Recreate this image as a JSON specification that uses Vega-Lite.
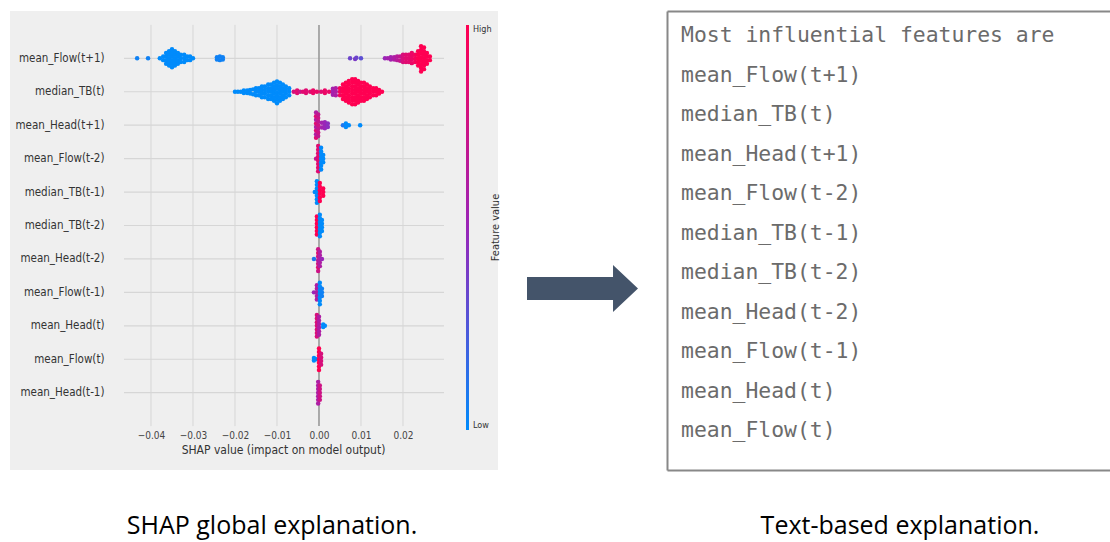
{
"$schema": "https://vega.github.io/schema/vega-lite/v6.json",
"background": "white",
"padding": {"left": 10, "top": 11, "right": 0, "bottom": 0},
"autosize": {"type": "pad"},
"spacing": 41,
"bounds": "full",
"config": {"view": {"stroke": null}},
"datasets": {
"ticks": [{"t": -0.04}, {"t": -0.03}, {"t": -0.02}, {"t": -0.01}, {"t": 0.01}, {"t": 0.02}],
"rows": [{"f": "mean_Flow(t+1)"}, {"f": "median_TB(t)"}, {"f": "mean_Head(t+1)"}, {"f": "mean_Flow(t-2)"}, {"f": "median_TB(t-1)"}, {"f": "median_TB(t-2)"}, {"f": "mean_Head(t-2)"}, {"f": "mean_Flow(t-1)"}, {"f": "mean_Head(t)"}, {"f": "mean_Flow(t)"}, {"f": "mean_Head(t-1)"}],
"lines": [{"line": "Most influential features are"}, {"line": "mean_Flow(t+1)"}, {"line": "median_TB(t)"}, {"line": "mean_Head(t+1)"}, {"line": "mean_Flow(t-2)"}, {"line": "median_TB(t-1)"}, {"line": "median_TB(t-2)"}, {"line": "mean_Head(t-2)"}, {"line": "mean_Flow(t-1)"}, {"line": "mean_Head(t)"}, {"line": "mean_Flow(t)"}],
"points": [
{"f":"mean_Flow(t+1)","v":-0.0433,"j":0,"c":0.05},
{"f":"mean_Flow(t+1)","v":-0.0407,"j":0,"c":0.05},
{"f":"mean_Flow(t+1)","v":-0.0379,"j":0,"c":0},
{"f":"mean_Flow(t+1)","v":-0.0371,"j":-0.15,"c":0},
{"f":"mean_Flow(t+1)","v":-0.0371,"j":0.15,"c":0},
{"f":"mean_Flow(t+1)","v":-0.0364,"j":-0.45,"c":0},
{"f":"mean_Flow(t+1)","v":-0.0364,"j":-0.15,"c":0},
{"f":"mean_Flow(t+1)","v":-0.0364,"j":0.15,"c":0},
{"f":"mean_Flow(t+1)","v":-0.0364,"j":0.45,"c":0},
{"f":"mean_Flow(t+1)","v":-0.0357,"j":-0.6,"c":0},
{"f":"mean_Flow(t+1)","v":-0.0357,"j":-0.3,"c":0},
{"f":"mean_Flow(t+1)","v":-0.0357,"j":0,"c":0},
{"f":"mean_Flow(t+1)","v":-0.0357,"j":0.3,"c":0},
{"f":"mean_Flow(t+1)","v":-0.0357,"j":0.6,"c":0},
{"f":"mean_Flow(t+1)","v":-0.035,"j":-0.75,"c":0},
{"f":"mean_Flow(t+1)","v":-0.035,"j":-0.45,"c":0},
{"f":"mean_Flow(t+1)","v":-0.035,"j":-0.15,"c":0},
{"f":"mean_Flow(t+1)","v":-0.035,"j":0.15,"c":0},
{"f":"mean_Flow(t+1)","v":-0.035,"j":0.45,"c":0},
{"f":"mean_Flow(t+1)","v":-0.035,"j":0.75,"c":0},
{"f":"mean_Flow(t+1)","v":-0.0343,"j":-0.6,"c":0},
{"f":"mean_Flow(t+1)","v":-0.0343,"j":-0.3,"c":0},
{"f":"mean_Flow(t+1)","v":-0.0343,"j":0,"c":0},
{"f":"mean_Flow(t+1)","v":-0.0343,"j":0.3,"c":0},
{"f":"mean_Flow(t+1)","v":-0.0343,"j":0.6,"c":0},
{"f":"mean_Flow(t+1)","v":-0.0336,"j":-0.45,"c":0},
{"f":"mean_Flow(t+1)","v":-0.0336,"j":-0.15,"c":0},
{"f":"mean_Flow(t+1)","v":-0.0336,"j":0.15,"c":0},
{"f":"mean_Flow(t+1)","v":-0.0336,"j":0.45,"c":0},
{"f":"mean_Flow(t+1)","v":-0.0329,"j":-0.3,"c":0},
{"f":"mean_Flow(t+1)","v":-0.0329,"j":0,"c":0},
{"f":"mean_Flow(t+1)","v":-0.0329,"j":0.3,"c":0},
{"f":"mean_Flow(t+1)","v":-0.0321,"j":-0.3,"c":0},
{"f":"mean_Flow(t+1)","v":-0.0321,"j":0,"c":0},
{"f":"mean_Flow(t+1)","v":-0.0321,"j":0.3,"c":0},
{"f":"mean_Flow(t+1)","v":-0.0314,"j":-0.15,"c":0},
{"f":"mean_Flow(t+1)","v":-0.0314,"j":0.15,"c":0},
{"f":"mean_Flow(t+1)","v":-0.0307,"j":-0.15,"c":0},
{"f":"mean_Flow(t+1)","v":-0.0307,"j":0.15,"c":0},
{"f":"mean_Flow(t+1)","v":-0.03,"j":0,"c":0},
{"f":"mean_Flow(t+1)","v":-0.0243,"j":-0.1,"c":0.05},
{"f":"mean_Flow(t+1)","v":-0.0243,"j":0.1,"c":0.05},
{"f":"mean_Flow(t+1)","v":-0.0236,"j":-0.15,"c":0.05},
{"f":"mean_Flow(t+1)","v":-0.0236,"j":0.15,"c":0.05},
{"f":"mean_Flow(t+1)","v":-0.0229,"j":-0.1,"c":0.05},
{"f":"mean_Flow(t+1)","v":-0.0229,"j":0.1,"c":0.05},
{"f":"mean_Flow(t+1)","v":0.0074,"j":0,"c":0.35},
{"f":"mean_Flow(t+1)","v":0.0086,"j":-0.05,"c":0.4},
{"f":"mean_Flow(t+1)","v":0.0089,"j":0.05,"c":0.35},
{"f":"mean_Flow(t+1)","v":0.01,"j":0,"c":0.3},
{"f":"mean_Flow(t+1)","v":0.0157,"j":0,"c":0.5},
{"f":"mean_Flow(t+1)","v":0.0164,"j":0,"c":0.55},
{"f":"mean_Flow(t+1)","v":0.0171,"j":-0.1,"c":0.55},
{"f":"mean_Flow(t+1)","v":0.0171,"j":0.1,"c":0.55},
{"f":"mean_Flow(t+1)","v":0.0179,"j":-0.1,"c":0.6},
{"f":"mean_Flow(t+1)","v":0.0179,"j":0.1,"c":0.6},
{"f":"mean_Flow(t+1)","v":0.0186,"j":-0.15,"c":0.65},
{"f":"mean_Flow(t+1)","v":0.0186,"j":0.15,"c":0.65},
{"f":"mean_Flow(t+1)","v":0.0193,"j":-0.2,"c":0.7},
{"f":"mean_Flow(t+1)","v":0.0193,"j":0.15,"c":0.7},
{"f":"mean_Flow(t+1)","v":0.02,"j":-0.3,"c":0.8},
{"f":"mean_Flow(t+1)","v":0.02,"j":0,"c":0.8},
{"f":"mean_Flow(t+1)","v":0.02,"j":0.3,"c":0.8},
{"f":"mean_Flow(t+1)","v":0.0207,"j":-0.3,"c":0.85},
{"f":"mean_Flow(t+1)","v":0.0207,"j":0,"c":0.85},
{"f":"mean_Flow(t+1)","v":0.0207,"j":0.3,"c":0.85},
{"f":"mean_Flow(t+1)","v":0.0214,"j":-0.3,"c":0.85},
{"f":"mean_Flow(t+1)","v":0.0214,"j":0,"c":0.85},
{"f":"mean_Flow(t+1)","v":0.0214,"j":0.3,"c":0.85},
{"f":"mean_Flow(t+1)","v":0.0221,"j":-0.4,"c":0.9},
{"f":"mean_Flow(t+1)","v":0.0221,"j":-0.1,"c":0.9},
{"f":"mean_Flow(t+1)","v":0.0221,"j":0.2,"c":0.9},
{"f":"mean_Flow(t+1)","v":0.0221,"j":0.45,"c":0.9},
{"f":"mean_Flow(t+1)","v":0.0229,"j":-0.3,"c":0.95},
{"f":"mean_Flow(t+1)","v":0.0229,"j":0,"c":0.95},
{"f":"mean_Flow(t+1)","v":0.0229,"j":0.3,"c":0.95},
{"f":"mean_Flow(t+1)","v":0.0236,"j":-0.6,"c":1},
{"f":"mean_Flow(t+1)","v":0.0236,"j":-0.3,"c":1},
{"f":"mean_Flow(t+1)","v":0.0236,"j":0,"c":1},
{"f":"mean_Flow(t+1)","v":0.0236,"j":0.3,"c":1},
{"f":"mean_Flow(t+1)","v":0.0236,"j":0.6,"c":1},
{"f":"mean_Flow(t+1)","v":0.0243,"j":-1.1,"c":1},
{"f":"mean_Flow(t+1)","v":0.0243,"j":-0.8,"c":1},
{"f":"mean_Flow(t+1)","v":0.0243,"j":-0.5,"c":1},
{"f":"mean_Flow(t+1)","v":0.0243,"j":-0.2,"c":1},
{"f":"mean_Flow(t+1)","v":0.0243,"j":0.1,"c":1},
{"f":"mean_Flow(t+1)","v":0.0243,"j":0.4,"c":1},
{"f":"mean_Flow(t+1)","v":0.0243,"j":0.7,"c":1},
{"f":"mean_Flow(t+1)","v":0.0243,"j":1.0,"c":1},
{"f":"mean_Flow(t+1)","v":0.025,"j":-0.9,"c":1},
{"f":"mean_Flow(t+1)","v":0.025,"j":-0.6,"c":1},
{"f":"mean_Flow(t+1)","v":0.025,"j":-0.3,"c":1},
{"f":"mean_Flow(t+1)","v":0.025,"j":0,"c":1},
{"f":"mean_Flow(t+1)","v":0.025,"j":0.3,"c":1},
{"f":"mean_Flow(t+1)","v":0.025,"j":0.6,"c":1},
{"f":"mean_Flow(t+1)","v":0.025,"j":0.9,"c":1},
{"f":"mean_Flow(t+1)","v":0.0257,"j":-0.45,"c":1},
{"f":"mean_Flow(t+1)","v":0.0257,"j":-0.15,"c":1},
{"f":"mean_Flow(t+1)","v":0.0257,"j":0.15,"c":1},
{"f":"mean_Flow(t+1)","v":0.0257,"j":0.45,"c":1},
{"f":"mean_Flow(t+1)","v":0.0264,"j":-0.15,"c":1},
{"f":"mean_Flow(t+1)","v":0.0264,"j":0.15,"c":1},
{"f":"median_TB(t)","v":-0.02,"j":0,"c":0},
{"f":"median_TB(t)","v":-0.0193,"j":0,"c":0},
{"f":"median_TB(t)","v":-0.0186,"j":0,"c":0},
{"f":"median_TB(t)","v":-0.0179,"j":-0.1,"c":0},
{"f":"median_TB(t)","v":-0.0179,"j":0.1,"c":0},
{"f":"median_TB(t)","v":-0.0171,"j":-0.1,"c":0},
{"f":"median_TB(t)","v":-0.0171,"j":0.1,"c":0},
{"f":"median_TB(t)","v":-0.0164,"j":-0.15,"c":0},
{"f":"median_TB(t)","v":-0.0164,"j":0.15,"c":0},
{"f":"median_TB(t)","v":-0.0157,"j":-0.2,"c":0},
{"f":"median_TB(t)","v":-0.0157,"j":0.2,"c":0},
{"f":"median_TB(t)","v":-0.015,"j":-0.3,"c":0},
{"f":"median_TB(t)","v":-0.015,"j":0,"c":0},
{"f":"median_TB(t)","v":-0.015,"j":0.3,"c":0},
{"f":"median_TB(t)","v":-0.0143,"j":-0.3,"c":0},
{"f":"median_TB(t)","v":-0.0143,"j":0,"c":0},
{"f":"median_TB(t)","v":-0.0143,"j":0.3,"c":0},
{"f":"median_TB(t)","v":-0.0136,"j":-0.45,"c":0},
{"f":"median_TB(t)","v":-0.0136,"j":-0.15,"c":0},
{"f":"median_TB(t)","v":-0.0136,"j":0.15,"c":0},
{"f":"median_TB(t)","v":-0.0136,"j":0.45,"c":0},
{"f":"median_TB(t)","v":-0.0129,"j":-0.45,"c":0},
{"f":"median_TB(t)","v":-0.0129,"j":-0.15,"c":0},
{"f":"median_TB(t)","v":-0.0129,"j":0.15,"c":0},
{"f":"median_TB(t)","v":-0.0129,"j":0.45,"c":0},
{"f":"median_TB(t)","v":-0.0121,"j":-0.6,"c":0},
{"f":"median_TB(t)","v":-0.0121,"j":-0.3,"c":0},
{"f":"median_TB(t)","v":-0.0121,"j":0,"c":0},
{"f":"median_TB(t)","v":-0.0121,"j":0.3,"c":0},
{"f":"median_TB(t)","v":-0.0121,"j":0.6,"c":0},
{"f":"median_TB(t)","v":-0.0114,"j":-0.6,"c":0},
{"f":"median_TB(t)","v":-0.0114,"j":-0.3,"c":0},
{"f":"median_TB(t)","v":-0.0114,"j":0,"c":0},
{"f":"median_TB(t)","v":-0.0114,"j":0.3,"c":0},
{"f":"median_TB(t)","v":-0.0114,"j":0.6,"c":0},
{"f":"median_TB(t)","v":-0.0107,"j":-0.75,"c":0},
{"f":"median_TB(t)","v":-0.0107,"j":-0.45,"c":0},
{"f":"median_TB(t)","v":-0.0107,"j":-0.15,"c":0},
{"f":"median_TB(t)","v":-0.0107,"j":0.15,"c":0},
{"f":"median_TB(t)","v":-0.0107,"j":0.45,"c":0},
{"f":"median_TB(t)","v":-0.0107,"j":0.75,"c":0},
{"f":"median_TB(t)","v":-0.01,"j":-0.95,"c":0},
{"f":"median_TB(t)","v":-0.01,"j":-0.65,"c":0},
{"f":"median_TB(t)","v":-0.01,"j":-0.35,"c":0},
{"f":"median_TB(t)","v":-0.01,"j":-0.05,"c":0},
{"f":"median_TB(t)","v":-0.01,"j":0.25,"c":0},
{"f":"median_TB(t)","v":-0.01,"j":0.55,"c":0},
{"f":"median_TB(t)","v":-0.01,"j":0.85,"c":0},
{"f":"median_TB(t)","v":-0.0093,"j":-0.75,"c":0},
{"f":"median_TB(t)","v":-0.0093,"j":-0.45,"c":0},
{"f":"median_TB(t)","v":-0.0093,"j":-0.15,"c":0},
{"f":"median_TB(t)","v":-0.0093,"j":0.15,"c":0},
{"f":"median_TB(t)","v":-0.0093,"j":0.45,"c":0},
{"f":"median_TB(t)","v":-0.0093,"j":0.75,"c":0},
{"f":"median_TB(t)","v":-0.0086,"j":-0.6,"c":0},
{"f":"median_TB(t)","v":-0.0086,"j":-0.3,"c":0},
{"f":"median_TB(t)","v":-0.0086,"j":0,"c":0},
{"f":"median_TB(t)","v":-0.0086,"j":0.3,"c":0},
{"f":"median_TB(t)","v":-0.0086,"j":0.6,"c":0},
{"f":"median_TB(t)","v":-0.0079,"j":-0.45,"c":0},
{"f":"median_TB(t)","v":-0.0079,"j":-0.15,"c":0},
{"f":"median_TB(t)","v":-0.0079,"j":0.15,"c":0},
{"f":"median_TB(t)","v":-0.0079,"j":0.45,"c":0},
{"f":"median_TB(t)","v":-0.0071,"j":-0.3,"c":0},
{"f":"median_TB(t)","v":-0.0071,"j":0,"c":0},
{"f":"median_TB(t)","v":-0.0071,"j":0.3,"c":0},
{"f":"median_TB(t)","v":-0.006,"j":0,"c":0.8},
{"f":"median_TB(t)","v":-0.0052,"j":-0.1,"c":0.85},
{"f":"median_TB(t)","v":-0.0052,"j":0.1,"c":0.85},
{"f":"median_TB(t)","v":-0.0045,"j":0,"c":0.75},
{"f":"median_TB(t)","v":-0.0038,"j":0,"c":0.85},
{"f":"median_TB(t)","v":-0.0031,"j":-0.1,"c":0.85},
{"f":"median_TB(t)","v":-0.0031,"j":0.1,"c":0.85},
{"f":"median_TB(t)","v":-0.0021,"j":0,"c":0.85},
{"f":"median_TB(t)","v":-0.0014,"j":-0.1,"c":0.9},
{"f":"median_TB(t)","v":-0.0014,"j":0.1,"c":0.9},
{"f":"median_TB(t)","v":-0.0005,"j":0,"c":0.9},
{"f":"median_TB(t)","v":0.0005,"j":0,"c":0.85},
{"f":"median_TB(t)","v":0.0014,"j":-0.1,"c":0.9},
{"f":"median_TB(t)","v":0.0014,"j":0.1,"c":0.9},
{"f":"median_TB(t)","v":0.0024,"j":0,"c":0.9},
{"f":"median_TB(t)","v":0.0033,"j":-0.25,"c":0.55},
{"f":"median_TB(t)","v":0.0033,"j":0,"c":0.55},
{"f":"median_TB(t)","v":0.0033,"j":0.25,"c":0.55},
{"f":"median_TB(t)","v":0.004,"j":-0.3,"c":0.6},
{"f":"median_TB(t)","v":0.004,"j":0,"c":0.6},
{"f":"median_TB(t)","v":0.004,"j":0.3,"c":0.6},
{"f":"median_TB(t)","v":0.005,"j":-0.3,"c":0.95},
{"f":"median_TB(t)","v":0.005,"j":0,"c":0.95},
{"f":"median_TB(t)","v":0.005,"j":0.3,"c":0.95},
{"f":"median_TB(t)","v":0.0057,"j":-0.6,"c":1},
{"f":"median_TB(t)","v":0.0057,"j":-0.3,"c":1},
{"f":"median_TB(t)","v":0.0057,"j":0,"c":1},
{"f":"median_TB(t)","v":0.0057,"j":0.3,"c":1},
{"f":"median_TB(t)","v":0.0057,"j":0.6,"c":1},
{"f":"median_TB(t)","v":0.0064,"j":-0.75,"c":1},
{"f":"median_TB(t)","v":0.0064,"j":-0.45,"c":1},
{"f":"median_TB(t)","v":0.0064,"j":-0.15,"c":1},
{"f":"median_TB(t)","v":0.0064,"j":0.15,"c":1},
{"f":"median_TB(t)","v":0.0064,"j":0.45,"c":1},
{"f":"median_TB(t)","v":0.0064,"j":0.75,"c":1},
{"f":"median_TB(t)","v":0.0071,"j":-0.9,"c":1},
{"f":"median_TB(t)","v":0.0071,"j":-0.6,"c":1},
{"f":"median_TB(t)","v":0.0071,"j":-0.3,"c":1},
{"f":"median_TB(t)","v":0.0071,"j":0,"c":1},
{"f":"median_TB(t)","v":0.0071,"j":0.3,"c":1},
{"f":"median_TB(t)","v":0.0071,"j":0.6,"c":1},
{"f":"median_TB(t)","v":0.0071,"j":0.9,"c":1},
{"f":"median_TB(t)","v":0.0079,"j":-1.05,"c":1},
{"f":"median_TB(t)","v":0.0079,"j":-0.75,"c":1},
{"f":"median_TB(t)","v":0.0079,"j":-0.45,"c":1},
{"f":"median_TB(t)","v":0.0079,"j":-0.15,"c":1},
{"f":"median_TB(t)","v":0.0079,"j":0.15,"c":1},
{"f":"median_TB(t)","v":0.0079,"j":0.45,"c":1},
{"f":"median_TB(t)","v":0.0079,"j":0.75,"c":1},
{"f":"median_TB(t)","v":0.0079,"j":1.05,"c":1},
{"f":"median_TB(t)","v":0.0086,"j":-1.05,"c":1},
{"f":"median_TB(t)","v":0.0086,"j":-0.75,"c":1},
{"f":"median_TB(t)","v":0.0086,"j":-0.45,"c":1},
{"f":"median_TB(t)","v":0.0086,"j":-0.15,"c":1},
{"f":"median_TB(t)","v":0.0086,"j":0.15,"c":1},
{"f":"median_TB(t)","v":0.0086,"j":0.45,"c":1},
{"f":"median_TB(t)","v":0.0086,"j":0.75,"c":1},
{"f":"median_TB(t)","v":0.0086,"j":1.05,"c":1},
{"f":"median_TB(t)","v":0.0093,"j":-0.9,"c":1},
{"f":"median_TB(t)","v":0.0093,"j":-0.6,"c":1},
{"f":"median_TB(t)","v":0.0093,"j":-0.3,"c":1},
{"f":"median_TB(t)","v":0.0093,"j":0,"c":1},
{"f":"median_TB(t)","v":0.0093,"j":0.3,"c":1},
{"f":"median_TB(t)","v":0.0093,"j":0.6,"c":1},
{"f":"median_TB(t)","v":0.0093,"j":0.9,"c":1},
{"f":"median_TB(t)","v":0.01,"j":-0.75,"c":1},
{"f":"median_TB(t)","v":0.01,"j":-0.45,"c":1},
{"f":"median_TB(t)","v":0.01,"j":-0.15,"c":1},
{"f":"median_TB(t)","v":0.01,"j":0.15,"c":1},
{"f":"median_TB(t)","v":0.01,"j":0.45,"c":1},
{"f":"median_TB(t)","v":0.01,"j":0.75,"c":1},
{"f":"median_TB(t)","v":0.0107,"j":-0.75,"c":1},
{"f":"median_TB(t)","v":0.0107,"j":-0.45,"c":1},
{"f":"median_TB(t)","v":0.0107,"j":-0.15,"c":1},
{"f":"median_TB(t)","v":0.0107,"j":0.15,"c":1},
{"f":"median_TB(t)","v":0.0107,"j":0.45,"c":1},
{"f":"median_TB(t)","v":0.0107,"j":0.75,"c":1},
{"f":"median_TB(t)","v":0.0114,"j":-0.6,"c":1},
{"f":"median_TB(t)","v":0.0114,"j":-0.3,"c":1},
{"f":"median_TB(t)","v":0.0114,"j":0,"c":1},
{"f":"median_TB(t)","v":0.0114,"j":0.3,"c":1},
{"f":"median_TB(t)","v":0.0114,"j":0.6,"c":1},
{"f":"median_TB(t)","v":0.0121,"j":-0.45,"c":1},
{"f":"median_TB(t)","v":0.0121,"j":-0.15,"c":1},
{"f":"median_TB(t)","v":0.0121,"j":0.15,"c":1},
{"f":"median_TB(t)","v":0.0121,"j":0.45,"c":1},
{"f":"median_TB(t)","v":0.0129,"j":-0.3,"c":1},
{"f":"median_TB(t)","v":0.0129,"j":0,"c":1},
{"f":"median_TB(t)","v":0.0129,"j":0.3,"c":1},
{"f":"median_TB(t)","v":0.0136,"j":-0.3,"c":1},
{"f":"median_TB(t)","v":0.0136,"j":0,"c":1},
{"f":"median_TB(t)","v":0.0136,"j":0.3,"c":1},
{"f":"median_TB(t)","v":0.0143,"j":-0.15,"c":1},
{"f":"median_TB(t)","v":0.0143,"j":0.15,"c":1},
{"f":"median_TB(t)","v":0.015,"j":0,"c":1},
{"f":"mean_Head(t+1)","v":-0.0007,"j":-1.05,"c":0.85},
{"f":"mean_Head(t+1)","v":-0.0007,"j":-0.75,"c":0.6},
{"f":"mean_Head(t+1)","v":-0.0007,"j":-0.45,"c":0.85},
{"f":"mean_Head(t+1)","v":-0.0007,"j":-0.15,"c":0.6},
{"f":"mean_Head(t+1)","v":-0.0007,"j":0.15,"c":0.85},
{"f":"mean_Head(t+1)","v":-0.0007,"j":0.45,"c":0.6},
{"f":"mean_Head(t+1)","v":-0.0007,"j":0.75,"c":0.85},
{"f":"mean_Head(t+1)","v":-0.0007,"j":1.05,"c":0.6},
{"f":"mean_Head(t+1)","v":-0.0002,"j":-0.9,"c":0.7},
{"f":"mean_Head(t+1)","v":-0.0002,"j":-0.6,"c":0.75},
{"f":"mean_Head(t+1)","v":-0.0002,"j":-0.3,"c":0.7},
{"f":"mean_Head(t+1)","v":-0.0002,"j":0,"c":0.75},
{"f":"mean_Head(t+1)","v":-0.0002,"j":0.3,"c":0.7},
{"f":"mean_Head(t+1)","v":-0.0002,"j":0.6,"c":0.75},
{"f":"mean_Head(t+1)","v":-0.0002,"j":0.9,"c":0.7},
{"f":"mean_Head(t+1)","v":0.0007,"j":-0.2,"c":0.55},
{"f":"mean_Head(t+1)","v":0.0007,"j":0.2,"c":0.55},
{"f":"mean_Head(t+1)","v":0.0014,"j":-0.25,"c":0.5},
{"f":"mean_Head(t+1)","v":0.0014,"j":0,"c":0.5},
{"f":"mean_Head(t+1)","v":0.0014,"j":0.25,"c":0.5},
{"f":"mean_Head(t+1)","v":0.0021,"j":-0.15,"c":0.45},
{"f":"mean_Head(t+1)","v":0.0021,"j":0.15,"c":0.45},
{"f":"mean_Head(t+1)","v":0.0057,"j":0,"c":0.1},
{"f":"mean_Head(t+1)","v":0.0064,"j":-0.15,"c":0},
{"f":"mean_Head(t+1)","v":0.0064,"j":0.15,"c":0},
{"f":"mean_Head(t+1)","v":0.0071,"j":0,"c":0},
{"f":"mean_Head(t+1)","v":0.0098,"j":0,"c":0},
{"f":"mean_Flow(t-2)","v":-0.0007,"j":0,"c":0.7},
{"f":"mean_Flow(t-2)","v":-0.0002,"j":-1.05,"c":0.85},
{"f":"mean_Flow(t-2)","v":-0.0002,"j":-0.75,"c":0.85},
{"f":"mean_Flow(t-2)","v":-0.0002,"j":-0.45,"c":0.85},
{"f":"mean_Flow(t-2)","v":-0.0002,"j":-0.15,"c":0.85},
{"f":"mean_Flow(t-2)","v":-0.0002,"j":0.15,"c":0.85},
{"f":"mean_Flow(t-2)","v":-0.0002,"j":0.45,"c":0.85},
{"f":"mean_Flow(t-2)","v":-0.0002,"j":0.75,"c":0.85},
{"f":"mean_Flow(t-2)","v":-0.0002,"j":1.05,"c":0.85},
{"f":"mean_Flow(t-2)","v":0.0005,"j":-0.9,"c":0},
{"f":"mean_Flow(t-2)","v":0.0005,"j":-0.6,"c":0},
{"f":"mean_Flow(t-2)","v":0.0005,"j":-0.3,"c":0},
{"f":"mean_Flow(t-2)","v":0.0005,"j":0,"c":0},
{"f":"mean_Flow(t-2)","v":0.0005,"j":0.3,"c":0},
{"f":"mean_Flow(t-2)","v":0.0005,"j":0.6,"c":0},
{"f":"mean_Flow(t-2)","v":0.0005,"j":0.9,"c":0},
{"f":"mean_Flow(t-2)","v":0.001,"j":-0.3,"c":0},
{"f":"mean_Flow(t-2)","v":0.001,"j":0,"c":0},
{"f":"mean_Flow(t-2)","v":0.001,"j":0.3,"c":0},
{"f":"median_TB(t-1)","v":-0.001,"j":0,"c":0},
{"f":"median_TB(t-1)","v":-0.0005,"j":-0.9,"c":0},
{"f":"median_TB(t-1)","v":-0.0005,"j":-0.6,"c":0},
{"f":"median_TB(t-1)","v":-0.0005,"j":-0.3,"c":0},
{"f":"median_TB(t-1)","v":-0.0005,"j":0,"c":0},
{"f":"median_TB(t-1)","v":-0.0005,"j":0.3,"c":0},
{"f":"median_TB(t-1)","v":-0.0005,"j":0.6,"c":0},
{"f":"median_TB(t-1)","v":-0.0005,"j":0.9,"c":0},
{"f":"median_TB(t-1)","v":0.0002,"j":-0.75,"c":1},
{"f":"median_TB(t-1)","v":0.0002,"j":-0.45,"c":1},
{"f":"median_TB(t-1)","v":0.0002,"j":-0.15,"c":1},
{"f":"median_TB(t-1)","v":0.0002,"j":0.15,"c":1},
{"f":"median_TB(t-1)","v":0.0002,"j":0.45,"c":1},
{"f":"median_TB(t-1)","v":0.0002,"j":0.75,"c":1},
{"f":"median_TB(t-1)","v":0.001,"j":-0.3,"c":1},
{"f":"median_TB(t-1)","v":0.001,"j":0,"c":1},
{"f":"median_TB(t-1)","v":0.001,"j":0.3,"c":1},
{"f":"median_TB(t-2)","v":-0.0005,"j":-0.75,"c":1},
{"f":"median_TB(t-2)","v":-0.0005,"j":-0.45,"c":1},
{"f":"median_TB(t-2)","v":-0.0005,"j":-0.15,"c":1},
{"f":"median_TB(t-2)","v":-0.0005,"j":0.15,"c":1},
{"f":"median_TB(t-2)","v":-0.0005,"j":0.45,"c":1},
{"f":"median_TB(t-2)","v":-0.0005,"j":0.75,"c":1},
{"f":"median_TB(t-2)","v":0.0002,"j":-0.9,"c":0},
{"f":"median_TB(t-2)","v":0.0002,"j":-0.6,"c":0},
{"f":"median_TB(t-2)","v":0.0002,"j":-0.3,"c":0},
{"f":"median_TB(t-2)","v":0.0002,"j":0,"c":0},
{"f":"median_TB(t-2)","v":0.0002,"j":0.3,"c":0},
{"f":"median_TB(t-2)","v":0.0002,"j":0.6,"c":0},
{"f":"median_TB(t-2)","v":0.0002,"j":0.9,"c":0},
{"f":"median_TB(t-2)","v":0.0007,"j":-0.45,"c":0},
{"f":"median_TB(t-2)","v":0.0007,"j":-0.15,"c":0},
{"f":"median_TB(t-2)","v":0.0007,"j":0.15,"c":0},
{"f":"median_TB(t-2)","v":0.0007,"j":0.45,"c":0},
{"f":"mean_Head(t-2)","v":-0.0012,"j":0,"c":0.1},
{"f":"mean_Head(t-2)","v":-0.0002,"j":-1.0,"c":0.75},
{"f":"mean_Head(t-2)","v":-0.0002,"j":-0.7,"c":0.85},
{"f":"mean_Head(t-2)","v":-0.0002,"j":-0.4,"c":0.75},
{"f":"mean_Head(t-2)","v":-0.0002,"j":-0.1,"c":0.65},
{"f":"mean_Head(t-2)","v":-0.0002,"j":0.2,"c":0.75},
{"f":"mean_Head(t-2)","v":-0.0002,"j":0.5,"c":0.85},
{"f":"mean_Head(t-2)","v":-0.0002,"j":0.8,"c":0.75},
{"f":"mean_Head(t-2)","v":0.0002,"j":-0.6,"c":0.6},
{"f":"mean_Head(t-2)","v":0.0002,"j":-0.3,"c":0.6},
{"f":"mean_Head(t-2)","v":0.0002,"j":0,"c":0.6},
{"f":"mean_Head(t-2)","v":0.0002,"j":0.3,"c":0.6},
{"f":"mean_Head(t-2)","v":0.0002,"j":0.6,"c":0.6},
{"f":"mean_Head(t-2)","v":0.0007,"j":0,"c":0.5},
{"f":"mean_Flow(t-1)","v":-0.0012,"j":0,"c":0.5},
{"f":"mean_Flow(t-1)","v":-0.0005,"j":-0.6,"c":0.6},
{"f":"mean_Flow(t-1)","v":-0.0005,"j":-0.3,"c":0.6},
{"f":"mean_Flow(t-1)","v":-0.0005,"j":0,"c":0.6},
{"f":"mean_Flow(t-1)","v":-0.0005,"j":0.3,"c":0.6},
{"f":"mean_Flow(t-1)","v":-0.0005,"j":0.6,"c":0.6},
{"f":"mean_Flow(t-1)","v":0.0002,"j":-1.0,"c":0},
{"f":"mean_Flow(t-1)","v":0.0002,"j":-0.7,"c":0},
{"f":"mean_Flow(t-1)","v":0.0002,"j":-0.4,"c":0},
{"f":"mean_Flow(t-1)","v":0.0002,"j":-0.1,"c":0},
{"f":"mean_Flow(t-1)","v":0.0002,"j":0.2,"c":0},
{"f":"mean_Flow(t-1)","v":0.0002,"j":0.5,"c":0},
{"f":"mean_Flow(t-1)","v":0.0002,"j":0.8,"c":0},
{"f":"mean_Flow(t-1)","v":0.0007,"j":-0.3,"c":0.05},
{"f":"mean_Flow(t-1)","v":0.0007,"j":0,"c":0.05},
{"f":"mean_Flow(t-1)","v":0.0007,"j":0.3,"c":0.05},
{"f":"mean_Head(t)","v":-0.0005,"j":-0.9,"c":0.8},
{"f":"mean_Head(t)","v":-0.0005,"j":-0.6,"c":0.8},
{"f":"mean_Head(t)","v":-0.0005,"j":-0.3,"c":0.8},
{"f":"mean_Head(t)","v":-0.0005,"j":0,"c":0.8},
{"f":"mean_Head(t)","v":-0.0005,"j":0.3,"c":0.8},
{"f":"mean_Head(t)","v":-0.0005,"j":0.6,"c":0.8},
{"f":"mean_Head(t)","v":-0.0005,"j":0.9,"c":0.8},
{"f":"mean_Head(t)","v":0,"j":-0.75,"c":0.6},
{"f":"mean_Head(t)","v":0,"j":-0.45,"c":0.6},
{"f":"mean_Head(t)","v":0,"j":-0.15,"c":0.6},
{"f":"mean_Head(t)","v":0,"j":0.15,"c":0.6},
{"f":"mean_Head(t)","v":0,"j":0.45,"c":0.6},
{"f":"mean_Head(t)","v":0,"j":0.75,"c":0.6},
{"f":"mean_Head(t)","v":0.001,"j":-0.1,"c":0},
{"f":"mean_Head(t)","v":0.001,"j":0.1,"c":0},
{"f":"mean_Head(t)","v":0.0014,"j":0,"c":0},
{"f":"mean_Flow(t)","v":-0.0012,"j":-0.1,"c":0},
{"f":"mean_Flow(t)","v":-0.0012,"j":0.1,"c":0},
{"f":"mean_Flow(t)","v":-0.0005,"j":0,"c":0},
{"f":"mean_Flow(t)","v":0,"j":-0.9,"c":1},
{"f":"mean_Flow(t)","v":0,"j":-0.6,"c":1},
{"f":"mean_Flow(t)","v":0,"j":-0.3,"c":1},
{"f":"mean_Flow(t)","v":0,"j":0,"c":1},
{"f":"mean_Flow(t)","v":0,"j":0.3,"c":1},
{"f":"mean_Flow(t)","v":0,"j":0.6,"c":1},
{"f":"mean_Flow(t)","v":0,"j":0.9,"c":1},
{"f":"mean_Flow(t)","v":0.0005,"j":-0.45,"c":0.8},
{"f":"mean_Flow(t)","v":0.0005,"j":-0.15,"c":0.8},
{"f":"mean_Flow(t)","v":0.0005,"j":0.15,"c":0.8},
{"f":"mean_Flow(t)","v":0.0005,"j":0.45,"c":0.8},
{"f":"mean_Head(t-1)","v":-0.0002,"j":-0.9,"c":0.6},
{"f":"mean_Head(t-1)","v":-0.0002,"j":-0.6,"c":0.6},
{"f":"mean_Head(t-1)","v":-0.0002,"j":-0.3,"c":0.6},
{"f":"mean_Head(t-1)","v":-0.0002,"j":0,"c":0.6},
{"f":"mean_Head(t-1)","v":-0.0002,"j":0.3,"c":0.6},
{"f":"mean_Head(t-1)","v":-0.0002,"j":0.6,"c":0.6},
{"f":"mean_Head(t-1)","v":-0.0002,"j":0.9,"c":0.6},
{"f":"mean_Head(t-1)","v":0.0002,"j":-0.6,"c":0.75},
{"f":"mean_Head(t-1)","v":0.0002,"j":-0.3,"c":0.75},
{"f":"mean_Head(t-1)","v":0.0002,"j":0,"c":0.75},
{"f":"mean_Head(t-1)","v":0.0002,"j":0.3,"c":0.75},
{"f":"mean_Head(t-1)","v":0.0002,"j":0.6,"c":0.75}
]
},
"vconcat": [
{
"spacing": 0,
"bounds": "flush",
"hconcat": [
{
"width": 488,
"height": 459,
"view": {"fill": "#efefef", "stroke": null},
"resolve": {"scale": {"y": "independent"}, "axis": {"y": "independent"}},
"layer": [
{
"data": {"name": "ticks"},
"mark": {"type": "rule", "color": "#d6d6d6", "strokeWidth": 1},
"encoding": {
"x": {"field": "t", "type": "quantitative", "scale": {"domain": [-0.07357, 0.04262], "nice": false, "zero": false}, "axis": {"values": [-0.04, -0.03, -0.02, -0.01, 0, 0.01, 0.02], "format": ".2f", "orient": "bottom", "offset": -47, "domain": false, "ticks": false, "grid": false, "labelPadding": 7, "labelFont": "DejaVu Sans Condensed", "labelFontSize": 10, "labelColor": "#444444", "title": "SHAP value (impact on model output)", "titleFont": "DejaVu Sans Condensed", "titleFontSize": 12, "titleFontWeight": "normal", "titleColor": "#333333", "titlePadding": 4, "titleX": 273}},
"y": {"datum": "_top", "type": "nominal", "scale": {"type": "point", "domain": ["_top", "mean_Flow(t+1)", "median_TB(t)", "mean_Head(t+1)", "mean_Flow(t-2)", "median_TB(t-1)", "median_TB(t-2)", "mean_Head(t-2)", "mean_Flow(t-1)", "mean_Head(t)", "mean_Flow(t)", "mean_Head(t-1)", "_bottom"], "padding": 0.8645, "align": 0.2405}, "axis": null},
"y2": {"datum": "_bottom"}
}
},
{
"data": {"name": "rows"},
"mark": {"type": "rule", "color": "#d6d6d6", "strokeWidth": 1.2},
"encoding": {
"x": {"datum": -0.04643, "type": "quantitative"},
"x2": {"datum": 0.02976},
"y": {"field": "f", "type": "nominal", "scale": {"type": "point", "domain": ["_top", "mean_Flow(t+1)", "median_TB(t)", "mean_Head(t+1)", "mean_Flow(t-2)", "median_TB(t-1)", "median_TB(t-2)", "mean_Head(t-2)", "mean_Flow(t-1)", "mean_Head(t)", "mean_Flow(t)", "mean_Head(t-1)", "_bottom"], "padding": 0.8645, "align": 0.2405}, "axis": null}
}
},
{
"data": {"values": [{"z": 0}]},
"mark": {"type": "rule", "color": "#999999", "strokeWidth": 1.6},
"encoding": {
"x": {"field": "z", "type": "quantitative"},
"y": {"datum": "_top", "type": "nominal", "scale": {"type": "point", "domain": ["_top", "mean_Flow(t+1)", "median_TB(t)", "mean_Head(t+1)", "mean_Flow(t-2)", "median_TB(t-1)", "median_TB(t-2)", "mean_Head(t-2)", "mean_Flow(t-1)", "mean_Head(t)", "mean_Flow(t)", "mean_Head(t-1)", "_bottom"], "padding": 0.8645, "align": 0.2405}, "axis": {"orient": "right", "offset": 0, "domain": false, "ticks": false, "labels": false, "grid": false, "title": "Feature value", "titleAngle": 270, "titleX": -3, "titleY": 216, "titleAlign": "center", "titleBaseline": "middle", "titleFont": "DejaVu Sans Condensed", "titleFontSize": 11, "titleFontWeight": "normal", "titleColor": "#333333"}},
"y2": {"datum": "_bottom"}
}
},
{
"data": {"name": "points"},
"mark": {"type": "point", "filled": true, "size": 20, "opacity": 1, "strokeWidth": 0},
"encoding": {
"x": {"field": "v", "type": "quantitative"},
"y": {"field": "f", "type": "nominal", "scale": {"type": "point", "domain": ["_top", "mean_Flow(t+1)", "median_TB(t)", "mean_Head(t+1)", "mean_Flow(t-2)", "median_TB(t-1)", "median_TB(t-2)", "mean_Head(t-2)", "mean_Flow(t-1)", "mean_Head(t)", "mean_Flow(t)", "mean_Head(t-1)", "_bottom"], "padding": 0.8645, "align": 0.2405}, "axis": {"orient": "left", "offset": -114, "domain": false, "ticks": false, "grid": false, "labelPadding": 20, "labelFont": "DejaVu Sans Condensed", "labelFontSize": 11.5, "labelColor": "#333333", "title": null, "labelExpr": "datum.value == '_top' || datum.value == '_bottom' ? '' : datum.value"}},
"yOffset": {"field": "j", "type": "quantitative", "scale": {"domain": [-1, 1], "range": [12, -12]}},
"color": {"field": "c", "type": "quantitative", "scale": {"domain": [0, 0.5, 1], "range": ["#008bfb", "#9a25b8", "#ff0052"], "interpolate": "rgb"}, "legend": {"orient": "none", "legendX": 456, "legendY": 14, "direction": "vertical", "gradientLength": 405, "gradientThickness": 3, "gradientStrokeWidth": 0, "values": [0, 1], "labelExpr": "datum.value >= 0.5 ? 'High' : 'Low'", "labelFont": "DejaVu Sans Condensed", "labelFontSize": 9, "labelColor": "#333333", "labelOffset": 4, "title": null}}
}
}
]
},
{
"width": 169,
"height": 459,
"view": {"stroke": null},
"data": {"values": [{"s": "arrow"}]},
"mark": {"type": "point", "shape": "M -1 -0.207 L 0.55 -0.207 L 0.55 -0.423 L 1 0 L 0.55 0.423 L 0.55 0.207 L -1 0.207 Z", "filled": true, "size": 12321, "color": "#44546a", "opacity": 1, "strokeWidth": 0},
"encoding": {
"y": {"field": "s", "type": "nominal", "scale": {"type": "point", "align": 0.6046}, "axis": null}
}
},
{
"width": 443,
"height": 459,
"view": {"stroke": null, "fill": "white"},
"data": {"name": "lines"},
"layer": [
{
"mark": {"type": "text", "align": "left", "baseline": "middle", "font": "DejaVu Sans Mono", "fontSize": 21.4, "color": "#6b6b6b"},
"encoding": {
"x": {"datum": 0, "type": "quantitative", "scale": {"domain": [0, 1], "padding": 14, "nice": false, "zero": false}, "axis": {"orient": "bottom", "labels": false, "ticks": false, "grid": false, "title": null, "domain": true, "domainColor": "#888888", "domainWidth": 2}},
"y": {"field": "line", "type": "nominal", "sort": null, "scale": {"type": "point", "padding": 0.8145, "align": 0.393}, "axis": {"orient": "left", "labels": false, "ticks": false, "grid": false, "title": null, "domain": true, "domainColor": "#888888", "domainWidth": 2}},
"text": {"field": "line"}
}
},
{
"mark": {"type": "text", "opacity": 0},
"encoding": {
"x": {"datum": 0, "type": "quantitative", "scale": {"domain": [0, 1], "padding": 14, "nice": false, "zero": false}, "axis": {"orient": "top", "labels": false, "ticks": false, "grid": false, "title": null, "domain": true, "domainColor": "#888888", "domainWidth": 2}},
"y": {"field": "line", "type": "nominal", "sort": null},
"text": {"field": "line"}
}
}
],
"resolve": {"scale": {"x": "independent"}, "axis": {"x": "independent"}}
}
]
},
{
"spacing": 156,
"bounds": "flush",
"hconcat": [
{
"width": 524,
"height": 30,
"view": {"stroke": null},
"data": {"values": [{"caption": "SHAP global explanation."}]},
"mark": {"type": "text", "align": "center", "baseline": "middle", "font": "Open Sans", "fontSize": 25, "color": "#000000"},
"encoding": {"text": {"field": "caption"}}
},
{
"width": 420,
"height": 30,
"view": {"stroke": null},
"data": {"values": [{"caption": "Text-based explanation."}]},
"mark": {"type": "text", "align": "center", "baseline": "middle", "font": "Open Sans", "fontSize": 25, "color": "#000000"},
"encoding": {"text": {"field": "caption"}}
}
]
}
]
}
